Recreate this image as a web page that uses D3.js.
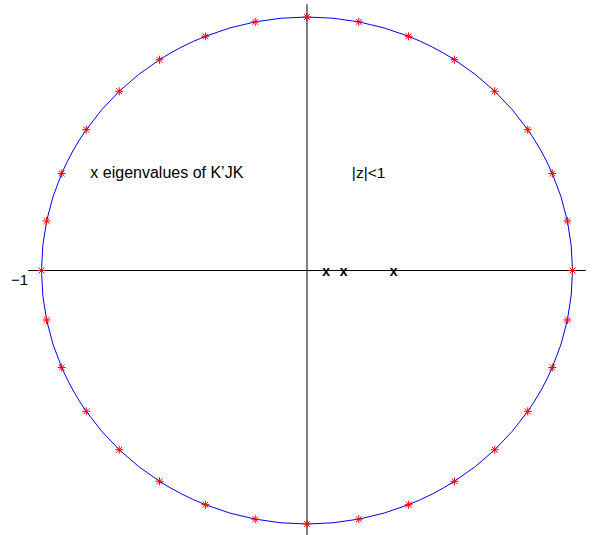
<!DOCTYPE html>
<html lang="en">
<head>
    <meta charset="UTF-8">
    <title>Eigenvalues on the unit circle</title>
    <style type="text/css">
        body { margin: 0; background: #fff; }
        text { font-family: "Liberation Sans", Arial, Helvetica, sans-serif; fill: #000; }
    </style>
</head>
<body>
<div id="chart"></div>

<script src="https://cdnjs.cloudflare.com/ajax/libs/d3/7.8.5/d3.min.js" type="text/javascript"></script>
<script type="text/javascript">
    // star markers on |z|=1, angle in degrees
    const starAngles = [0, 11.25, 22.5, 33.75, 45, 56.25, 67.5, 78.75,
        90, 101.25, 112.5, 123.75, 135, 146.25, 157.5, 168.75,
        180, 191.25, 202.5, 213.75, 225, 236.25, 247.5, 258.75,
        270, 281.25, 292.5, 303.75, 315, 326.25, 337.5, 348.75];
    // eigenvalues of K'JK (real axis)
    const eigenvalues = [0.072, 0.138, 0.326];
    const axisLimit = [-1.05, 1.05];
    const labels = [
        {text: "x eigenvalues of K\u2019JK", x: -0.816, y: 0.386, size: 16},
        {text: "|z|<1", x: 0.169, y: 0.386, size: 15.5},
        {text: "\u22121", x: -1.115, y: -0.036, size: 15}
    ];

    const width = 599, height = 535;

    const x = d3.scaleLinear().domain([-1, 1]).range([41.5, 572.5]);
    const y = d3.scaleLinear().domain([-1, 1]).range([524, 17]);

    const svg = d3.select("#chart")
        .append("svg")
            .attr("width", width)
            .attr("height", height);

    // real axis
    svg.append("line")
        .attr("x1", x(axisLimit[0])).attr("x2", x(axisLimit[1]))
        .attr("y1", y(0)).attr("y2", y(0))
        .style("stroke", "#000").style("stroke-width", 1);

    // imaginary axis
    svg.append("line")
        .attr("x1", x(0)).attr("x2", x(0))
        .attr("y1", y(axisLimit[1])).attr("y2", y(axisLimit[0]))
        .style("stroke", "#000").style("stroke-width", 1);

    // unit circle
    svg.append("ellipse")
        .attr("cx", x(0)).attr("cy", y(0))
        .attr("rx", x(1) - x(0)).attr("ry", y(0) - y(1))
        .style("fill", "none")
        .style("stroke", "#0000ff")
        .style("stroke-width", 1);

    // '*' markers
    const s = 4, d = 2.9;
    const starPath = `M${-s},0L${s},0M0,${-s}L0,${s}M${-d},${-d}L${d},${d}M${-d},${d}L${d},${-d}`;
    svg.selectAll(".star")
        .data(starAngles)
        .enter()
        .append("path")
        .attr("class", "star")
        .attr("d", starPath)
        .attr("transform", a => {
            const t = a * Math.PI / 180;
            return `translate(${x(Math.cos(t))},${y(Math.sin(t))})`;
        })
        .style("fill", "none")
        .style("stroke", "#ff0000")
        .style("stroke-width", 1);

    // eigenvalues drawn as 'x'
    svg.selectAll(".eig")
        .data(eigenvalues)
        .enter()
        .append("text")
        .attr("class", "eig")
        .attr("x", v => x(v))
        .attr("y", y(0))
        .attr("dy", "0.4em")
        .attr("text-anchor", "middle")
        .style("font-size", "14px")
        .style("font-weight", "bold")
        .text("x");

    svg.selectAll(".label")
        .data(labels)
        .enter()
        .append("text")
        .attr("class", "label")
        .attr("x", dd => x(dd.x))
        .attr("y", dd => y(dd.y))
        .attr("dy", "0.35em")
        .style("font-size", dd => dd.size + "px")
        .text(dd => dd.text);
</script>
</body>
</html>
